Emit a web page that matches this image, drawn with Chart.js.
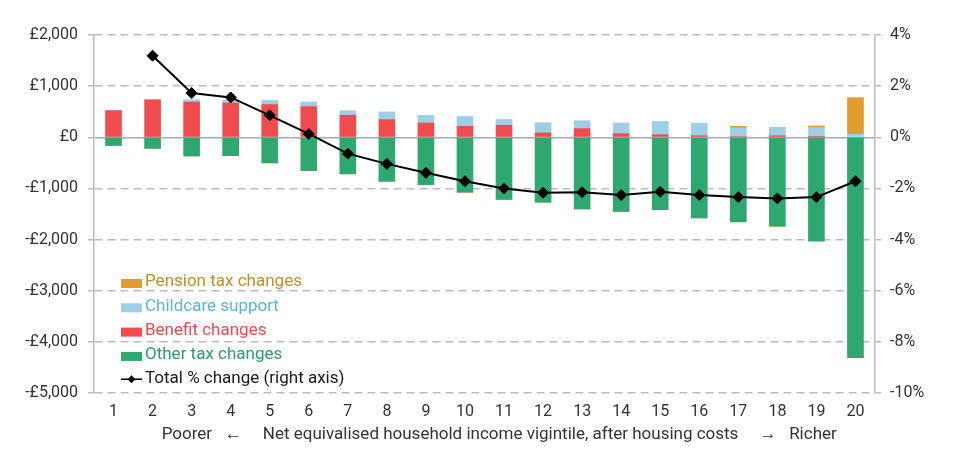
<!DOCTYPE html>
<html>
<head>
<meta charset="utf-8">
<script src="https://cdn.jsdelivr.net/npm/chart.js@4.4.1/dist/chart.umd.min.js"></script>
<style>
  html, body { margin: 0; padding: 0; background: #fff; }
  #wrap { width: 958px; height: 455px; position: relative; }
</style>
</head>
<body>
<div id="wrap"><canvas id="chart"></canvas></div>
<script>
const vigintiles = ["1","2","3","4","5","6","7","8","9","10","11","12","13","14","15","16","17","18","19","20"]

// £ per year
const otherTax = [-160, -215, -365, -360, -500, -650, -715, -860, -925, -1075, -1215, -1270, -1400, -1450, -1415, -1575, -1655, -1740, -2030, -4310]
const benefit = [520, 735, 690, 670, 640, 600, 430, 345, 280, 215, 235, 85, 170, 70, 50, 30, 15, 30, 5, 0]
const childcare = [10, 0, 45, 60, 80, 90, 90, 150, 150, 190, 115, 200, 155, 210, 260, 245, 170, 165, 185, 60]
const pension = [0, 0, 0, 0, 0, 0, 0, 0, 0, 0, 0, 0, 0, 0, 0, 0, 30, 0, 30, 715]

// % change, right axis
const totalPct = [null, 3.19, 1.73, 1.56, 0.86, 0.13, -0.64, -1.04, -1.39, -1.72, -2.0, -2.17, -2.15, -2.26, -2.13, -2.26, -2.34, -2.39, -2.34, -1.72]

const textColor = "#333333"
const gridColor = "#bdbdbd"
const fontFamily = "Roboto, 'Liberation Sans', sans-serif"

const poundFmt = (v) => {
  const s = "£" + Math.abs(v).toLocaleString("en-GB")
  return v < 0 ? "-" + s : s
}

// Legend drawn inside the plot, bottom left
const insideLegend = {
  id: "insideLegend",
  afterDraw: (chart) => {
    const ctx = chart.ctx
    const area = chart.chartArea
    const order = ["Pension tax changes", "Childcare support", "Benefit changes", "Other tax changes", "Total % change (right axis)"]
    const x = area.left + 27
    let y = area.top + 247
    ctx.save()
    ctx.font = `17px ${fontFamily}`
    ctx.textBaseline = "middle"
    ctx.textAlign = "left"
    order.forEach((label) => {
      const ds = chart.data.datasets.find((d) => d.label === label)
      if (ds.type === "line") {
        ctx.strokeStyle = "#000"
        ctx.lineWidth = 1.5
        ctx.beginPath()
        ctx.moveTo(x, y)
        ctx.lineTo(x + 21, y)
        ctx.stroke()
        ctx.fillStyle = "#000"
        ctx.beginPath()
        ctx.moveTo(x + 10.5 - 4, y)
        ctx.lineTo(x + 10.5, y - 4)
        ctx.lineTo(x + 10.5 + 4, y)
        ctx.lineTo(x + 10.5, y + 4)
        ctx.closePath()
        ctx.fill()
      } else {
        ctx.fillStyle = ds.backgroundColor
        ctx.fillRect(x, y - 3, 21, 9)
      }
      ctx.fillStyle = ds.legendTextColor
      ctx.fillText(label, x + 24, y)
      y += 24.3
    })
    ctx.restore()
  },
}

const ctx = document.getElementById("chart").getContext("2d")

new Chart(ctx, {
  data: {
    labels: vigintiles,
    datasets: [
      {
        type: "line",
        label: "Total % change (right axis)",
        data: totalPct,
        yAxisID: "y1",
        borderColor: "#000",
        borderWidth: 2,
        pointStyle: "rectRot",
        pointRadius: 5.5,
        pointBackgroundColor: "#000",
        pointBorderColor: "#000",
        pointBorderWidth: 1,
        tension: 0,
        order: 0,
        legendTextColor: "#1a1a1a",
      },
      {
        type: "bar",
        label: "Other tax changes",
        data: otherTax,
        backgroundColor: "#2ea86f",
        legendTextColor: "#2e9c63",
        order: 1,
      },
      {
        type: "bar",
        label: "Benefit changes",
        data: benefit,
        backgroundColor: "#f04c4e",
        legendTextColor: "#ee4a4b",
        order: 1,
      },
      {
        type: "bar",
        label: "Childcare support",
        data: childcare,
        backgroundColor: "#9dd0e7",
        legendTextColor: "#5ab4de",
        order: 1,
      },
      {
        type: "bar",
        label: "Pension tax changes",
        data: pension,
        backgroundColor: "#e09d2e",
        legendTextColor: "#c48d27",
        order: 1,
      },
    ],
  },
  options: {
    responsive: true,
    maintainAspectRatio: false,
    animation: false,
    layout: { padding: { top: 35, left: 0, right: 0, bottom: 0 } },
    datasets: {
      bar: { barThickness: 16, borderWidth: 0 },
    },
    plugins: {
      legend: { display: false },
      tooltip: { enabled: false },
    },
    scales: {
      x: {
        stacked: true,
        grid: { display: false, drawTicks: false },
        border: { display: false },
        ticks: {
          color: textColor,
          font: { family: fontFamily, size: 16 },
          padding: 9,
          maxRotation: 0,
        },
        title: {
          display: true,
          text: "       Poorer   \u2190     Net equivalised household income vigintile, after housing costs     \u2192   Richer",
          color: textColor,
          font: { family: fontFamily, size: 17 },
          padding: { top: 2, bottom: 10 },
        },
        afterFit: (scale) => {
          scale.height = 62
        },
      },
      y: {
        stacked: true,
        position: "left",
        min: -5000,
        max: 2000,
        ticks: {
          stepSize: 1000,
          color: textColor,
          font: { family: fontFamily, size: 16 },
          padding: 10,
          callback: (v) => poundFmt(v),
        },
        grid: {
          color: (c) => (c.tick && c.tick.value === 0 ? "#aaaaaa" : gridColor),
          lineWidth: 1.5,
          tickLength: 6,
          tickColor: gridColor,
        },
        border: {
          display: true,
          color: gridColor,
          width: 1.5,
          dash: (c) => (c.tick && c.tick.value === 0 ? [] : [8, 5]),
        },
        afterFit: (scale) => {
          scale.width = 94
        },
      },
      y1: {
        position: "right",
        min: -10,
        max: 4,
        ticks: {
          stepSize: 2,
          color: textColor,
          font: { family: fontFamily, size: 16 },
          padding: 9,
          callback: (v) => v + "%",
        },
        grid: {
          drawOnChartArea: false,
          color: gridColor,
          lineWidth: 1.5,
          tickLength: 6,
        },
        border: { display: true, color: gridColor, width: 1.5 },
        afterFit: (scale) => {
          scale.width = 83
        },
      },
    },
  },
  plugins: [insideLegend],
})
</script>
</body>
</html>
